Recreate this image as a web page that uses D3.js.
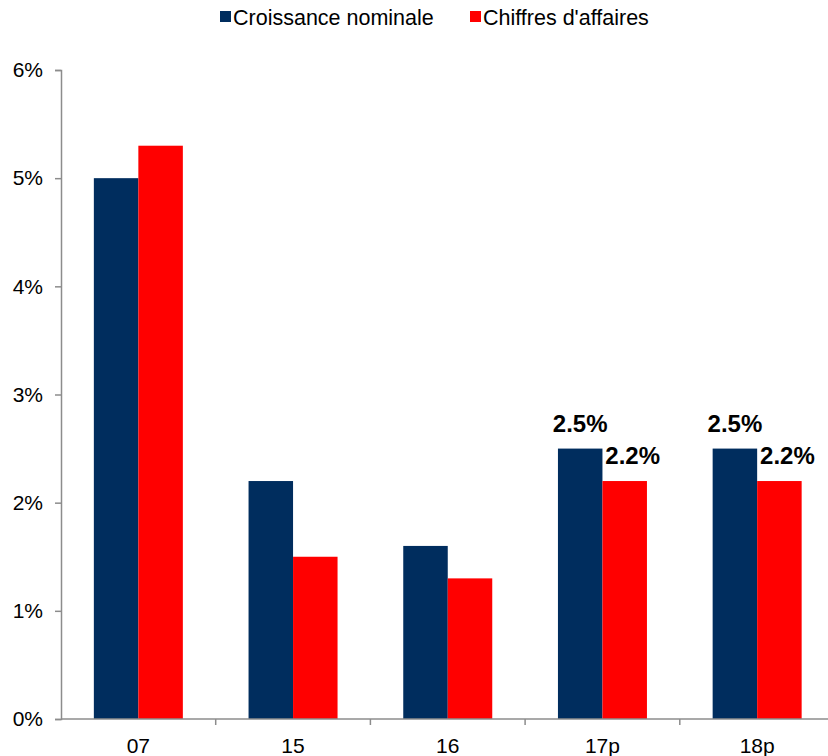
<!DOCTYPE html>
<html>
<head>
<meta charset="utf-8">
<script src="https://cdn.jsdelivr.net/npm/d3@7"></script>
<style>
  body { margin: 0; background: #fff; }
  svg { display: block; font-family: Arial, "Liberation Sans", sans-serif; }
</style>
</head>
<body>
<div id="chart"></div>
<script>
const categories = ['07', '15', '16', '17p', '18p'];
const seriesNames = ['Croissance nominale', "Chiffres d'affaires"];
const croissance = [5.0, 2.2, 1.6, 2.5, 2.5];
const chiffres = [5.3, 1.5, 1.3, 2.2, 2.2];
const yTicks = [0, 1, 2, 3, 4, 5, 6];
const labelled = ['17p', '18p'];

const colors = ['#002D5E', '#FF0000'];
const width = 828;
const height = 756;
const margins = { top: 70, left: 61, bottom: 37 };
const bandW = 154.7;
const plotW = bandW * categories.length;
const plotH = height - margins.top - margins.bottom;

const svg = d3.select('#chart')
  .append('svg')
  .attr('width', width)
  .attr('height', height);

const g = svg.append('g')
  .attr('transform', 'translate(' + margins.left + ',' + margins.top + ')');

const x = d3.scaleBand()
  .domain(categories)
  .range([0, plotW]);

const sub = d3.scaleBand()
  .domain([0, 1])
  .range([x.bandwidth() / 2 - 44.5, x.bandwidth() / 2 + 44.5]);

const y = d3.scaleLinear()
  .domain([0, 6])
  .range([plotH, 0]);

const rows = categories.map((c, i) => ({ cat: c, values: [croissance[i], chiffres[i]] }));

/* Bars */
const groups = g.selectAll('.grp')
  .data(rows)
  .enter()
  .append('g')
  .attr('transform', d => 'translate(' + x(d.cat) + ',0)');

groups.selectAll('rect')
  .data(d => d.values.map((v, k) => ({ v, k, cat: d.cat })))
  .enter()
  .append('rect')
  .attr('x', d => sub(d.k))
  .attr('width', sub.bandwidth())
  .attr('y', d => y(d.v))
  .attr('height', d => plotH - y(d.v))
  .style('fill', d => colors[d.k]);

/* Value labels on forecast years */
const labelDx = [0, 8];
groups.filter(d => labelled.includes(d.cat))
  .selectAll('text')
  .data(d => d.values.map((v, k) => ({ v, k })))
  .enter()
  .append('text')
  .attr('x', d => sub(d.k) + sub.bandwidth() / 2 + labelDx[d.k])
  .attr('y', d => y(d.v) - 17)
  .attr('text-anchor', 'middle')
  .style('font-size', '24px')
  .style('font-weight', 'bold')
  .text(d => d.v.toFixed(1) + '%');

/* Axes */
const axisColor = '#8c8c8c';

const yAxis = g.append('g')
  .call(d3.axisLeft(y).tickValues(yTicks).tickFormat(d => d + '%').tickSize(6).tickPadding(12));
yAxis.select('.domain').attr('stroke', axisColor).attr('stroke-width', 1.5);
yAxis.selectAll('.tick line').attr('stroke', axisColor).attr('stroke-width', 1.5);
yAxis.selectAll('.tick text')
  .style('font-size', '21px')
  .style('font-family', 'Arial, "Liberation Sans", sans-serif')
  .attr('fill', '#000');

const xAxis = g.append('g')
  .attr('transform', 'translate(0,' + plotH + ')');
xAxis.append('line')
  .attr('x1', 0).attr('x2', plotW)
  .attr('stroke', axisColor).attr('stroke-width', 1.5);
xAxis.selectAll('.sep')
  .data(categories.slice(1).concat(['end']))
  .enter()
  .append('line')
  .attr('x1', (d, i) => x.step() * (i + 1))
  .attr('x2', (d, i) => x.step() * (i + 1))
  .attr('y1', 0).attr('y2', 6)
  .attr('stroke', axisColor).attr('stroke-width', 1.5);
xAxis.selectAll('.lbl')
  .data(categories)
  .enter()
  .append('text')
  .attr('x', d => x(d) + x.bandwidth() / 2)
  .attr('y', 34)
  .attr('text-anchor', 'middle')
  .style('font-size', '21px')
  .text(d => d);

/* Legend */
const legendX = [220, 470];
const legend = svg.selectAll('.leg')
  .data(seriesNames)
  .enter()
  .append('g')
  .attr('transform', (d, i) => 'translate(' + legendX[i] + ',0)');
legend.append('rect')
  .attr('x', 0).attr('y', 11)
  .attr('width', 11).attr('height', 11)
  .style('fill', (d, i) => colors[i]);
legend.append('text')
  .attr('x', 13).attr('y', 25)
  .style('font-size', '21.5px')
  .text(d => d);
</script>
</body>
</html>
